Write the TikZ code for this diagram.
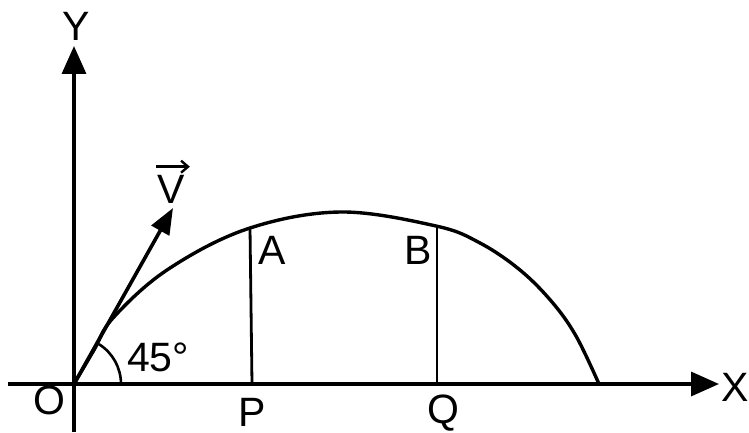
\documentclass[tikz,border=0pt]{standalone}
\usepackage{fontspec}
\setmainfont{Liberation Sans}
\usetikzlibrary{arrows.meta}
\begin{document}
\begin{tikzpicture}[x=1pt,y=-1pt,
  axis/.style={line width=3.4pt,-{Triangle[length=28pt,width=24pt]}},
  curve/.style={line width=3.4pt},
  drop/.style={line width=2.8pt},
  lbl/.style={font=\fontsize{41}{41}\selectfont,inner sep=0pt},
  vecarrow/.style={line width=2.4pt,-{Straight Barb[length=7pt,width=12pt]}}]
\useasboundingbox (0,0) rectangle (749,433);
\coordinate (O) at (74,384);
\coordinate (Ytip) at (74,46);
\coordinate (Ybot) at (74,432);
\coordinate (Xl) at (8,384);
\coordinate (Xtip) at (719,384);
\coordinate (Vtip) at (173,208);
\coordinate (A) at (250,228);
\coordinate (P) at (252,384);
\coordinate (B) at (437,227);
\coordinate (Q) at (437,384);
\draw[axis] (Ybot) -- (Ytip);
\draw[axis] (Xl) -- (Xtip);
\draw[line width=3.6pt,-{Triangle[length=26pt,width=20pt]}] (O) -- (Vtip);
\draw[curve] plot[smooth,tension=0.6] coordinates {(74,384) (94,350) (113,318) (167,270) (247,229) (340,212) (436,226) (480,243) (520,270) (552,302) (576,336) (599,384)};
\draw[drop] (A) -- (P);
\draw[drop] (B) -- (Q);
\draw[line width=2.6pt] (121,384) arc[start angle=0,end angle=-58,radius=47];
\node[lbl] (lY) at (76,26) {Y};
\node[lbl] (lX) at (735,387) {X};
\node[lbl] (lO) at (49,400) {O};
\node[lbl] (lP) at (252,412) {P};
\node[lbl] (lQ) at (443,413) {Q};
\node[lbl] (lA) at (272,250) {A};
\node[lbl] (lB) at (418,250) {B};
\node[lbl] (l45) at (158,357) {45°};
\node[lbl] (lV) at (171,189) {V};
\draw[vecarrow] ([xshift=-1pt,yshift=8pt]lV.north west) -- ([xshift=5pt,yshift=8pt]lV.north east);
\end{tikzpicture}
\end{document}
